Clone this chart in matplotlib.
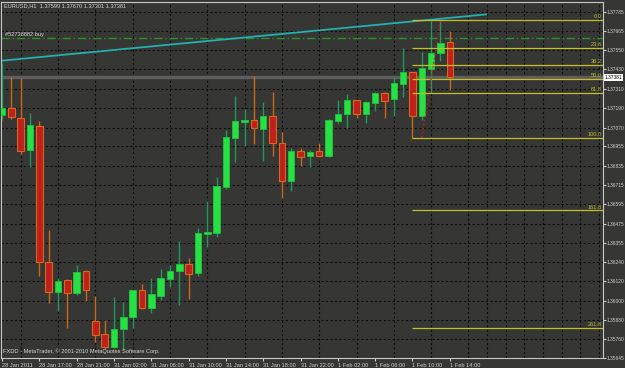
import matplotlib
matplotlib.use('Agg')
import matplotlib.pyplot as plt
from matplotlib import font_manager
import matplotlib.transforms as mtransforms
import numpy as np

# ---------------- data ----------------
time_labels = ["28 Jan 2011", "28 Jan 17:00", "28 Jan 21:00", "31 Jan 02:00", "31 Jan 06:00",
               "31 Jan 10:00", "31 Jan 14:00", "31 Jan 18:00", "31 Jan 22:00", "1 Feb 02:00",
               "1 Feb 06:00", "1 Feb 10:00", "1 Feb 14:00"]

opens = [1.37148, 1.37191, 1.37129, 1.36931, 1.37080, 1.36239, 1.36053, 1.36127, 1.36047, 1.36183,
         1.35874, 1.35795, 1.35713, 1.35824, 1.35899, 1.36066, 1.35954, 1.36028, 1.36134, 1.36183,
         1.36226, 1.36171, 1.36412, 1.36418, 1.36703, 1.37006, 1.37105, 1.37117, 1.37061, 1.37142,
         1.36975, 1.36740, 1.36925, 1.36894, 1.36925, 1.36894, 1.37111, 1.37154, 1.37241, 1.37154,
         1.37222, 1.37284, 1.37247, 1.37340, 1.37414, 1.37142, 1.37432, 1.37531, 1.37599]
highs = [1.37470, 1.37383, 1.37377, 1.37160, 1.37111, 1.36437, 1.36140, 1.36134, 1.36220, 1.36189,
         1.36028, 1.35880, 1.36022, 1.35991, 1.36066, 1.36103, 1.36140, 1.36195, 1.36220, 1.36369,
         1.36263, 1.36449, 1.36616, 1.36764, 1.37055, 1.37265, 1.37185, 1.37389, 1.37228, 1.37290,
         1.37043, 1.36944, 1.36944, 1.36931, 1.36975, 1.37123, 1.37241, 1.37278, 1.37241, 1.37235,
         1.37290, 1.37290, 1.37383, 1.37562, 1.37414, 1.37538, 1.37730, 1.37736, 1.37670]
lows = [1.37117, 1.37123, 1.36907, 1.36826, 1.36152, 1.35985, 1.35936, 1.35831, 1.36035, 1.35998,
        1.35744, 1.35701, 1.35707, 1.35701, 1.35831, 1.35948, 1.35923, 1.36004, 1.36084, 1.35973,
        1.36010, 1.36152, 1.36332, 1.36393, 1.36690, 1.36857, 1.36956, 1.36969, 1.36863, 1.36894,
        1.36635, 1.36678, 1.36832, 1.36826, 1.36888, 1.36888, 1.37098, 1.37068, 1.37129, 1.37098,
        1.37173, 1.37129, 1.37142, 1.37259, 1.37008, 1.37117, 1.37284, 1.37482, 1.37301]
closes = [1.37191, 1.37136, 1.36925, 1.37086, 1.36239, 1.36053, 1.36121, 1.36047, 1.36177, 1.36066,
          1.35790, 1.35713, 1.35824, 1.35899, 1.36066, 1.35954, 1.36041, 1.36140, 1.36183, 1.36226,
          1.36164, 1.36418, 1.36424, 1.36709, 1.37012, 1.37111, 1.37117, 1.37068, 1.37142, 1.36975,
          1.36740, 1.36925, 1.36888, 1.36919, 1.36894, 1.37117, 1.37154, 1.37241, 1.37154, 1.37228,
          1.37284, 1.37235, 1.37346, 1.37414, 1.37142, 1.37439, 1.37531, 1.37593, 1.37381]

price_ticks = [1.37785, 1.37665, 1.37550, 1.37430, 1.37310, 1.37190, 1.37070, 1.36955, 1.36835,
               1.36715, 1.36595, 1.36475, 1.36355, 1.36240, 1.36120, 1.36000, 1.35880, 1.35760, 1.35645]

fib_high = 1.37736
fib_low = 1.37008
fib_levels = [0.0, 23.6, 38.2, 50.0, 61.8, 100.0, 161.8, 261.8]
bid_price = 1.37381
order_price = 1.37622
order_label = "#52738882 buy"
trend_x = [0, 52]
trend_y = [1.37484, 1.37771]
title_text = "EURUSD,H1  1.37599 1.37670 1.37301 1.37381"
copyright_text = "FXDD - MetaTrader, \u00a9 2001-2010 MetaQuotes Software Corp."

# ---------------- style ----------------
names = {f.name for f in font_manager.fontManager.ttflist}
if 'Liberation Sans Narrow' in names:
    FONT, FS, FSY = 'Liberation Sans Narrow', 4.7, 4.3
elif 'Liberation Sans' in names:
    FONT, FS, FSY = 'Liberation Sans', 4.1, 3.5
else:
    FONT, FS, FSY = 'DejaVu Sans', 3.6, 3.1
plt.rcParams['font.family'] = [FONT, 'DejaVu Sans']

BG = '#363634'
TXT = '#d8d8d8'
BULL = '#26e044'
BULL_EDGE = '#20c23c'
BULL_WICK = '#1f9a5c'
BEAR = '#c0201c'
BEAR_EDGE = '#d2691e'
BEAR_WICK = '#c8681a'
FIB = '#c0c02a'

W, H = 625, 368
fig = plt.figure(figsize=(W / 100, H / 100), dpi=100, facecolor=BG)
ax = fig.add_axes([1 / W, 1 - 358 / H, 602 / W, 356 / H])
ax.set_facecolor(BG)

n = len(opens)
xs = np.arange(n)
o = np.array(opens); c = np.array(closes); h = np.array(highs); l = np.array(lows)
up = c >= o

# wicks
ax.vlines(xs[up], l[up], h[up], color=BULL_WICK, lw=1, zorder=3)
ax.vlines(xs[~up], l[~up], h[~up], color=BEAR_WICK, lw=1, zorder=3)
# bodies
bw = 0.7
ax.bar(xs[up], c[up] - o[up], bottom=o[up], width=bw, color=BULL, edgecolor=BULL_EDGE, lw=0.6, zorder=4)
ax.bar(xs[~up], c[~up] - o[~up], bottom=o[~up], width=bw, color=BEAR, edgecolor=BEAR_EDGE, lw=0.8, zorder=4)

xmin, xmax = -0.107, 64.42
ax.set_xlim(xmin, xmax)
ax.set_ylim(1.35645, 1.37847)

# grid
ax.set_yticks(price_ticks)
ax.set_yticklabels([f"{p:.5f}" for p in price_ticks])
ax.set_xticks(np.arange(0, 4 * len(time_labels), 4))
ax.set_xticklabels(time_labels)
ax.set_xticks(np.arange(0, 65, 2), minor=True)
ax.grid(which='major', axis='y', color='#0e0e0e', linestyle=(0, (2, 2)), lw=0.8, zorder=1)
ax.grid(which='minor', axis='x', color='#0e0e0e', linestyle=(0, (2, 2)), lw=0.8, zorder=1)
ax.yaxis.tick_right()
ax.tick_params(axis='y', which='major', length=2, width=0.8, pad=0.8, colors='#cfcfcf', labelsize=FSY)
ax.tick_params(axis='x', which='major', length=2, width=0.8, pad=1.5, colors='#cfcfcf', labelsize=FS)
ax.tick_params(which='minor', length=0)
for lab in ax.get_xticklabels():
    lab.set_ha('left')
for sp in ax.spines.values():
    sp.set_color('#c8c8c8')
    sp.set_linewidth(0.8)

# bid line
ax.axhline(bid_price, color='#5e5e5e', lw=2.4, zorder=2)
# order line
ax.axhline(order_price, color='#2e8f2e', lw=1.0, linestyle=(0, (6, 2, 1, 2)), zorder=2)
ax.text(0.3, order_price + 0.00025, order_label, color=TXT, fontsize=FS, va='center', ha='left', zorder=6)
# trendline
ax.plot(trend_x, trend_y, color='#22b0b0', lw=1.3, zorder=5, solid_capstyle='butt')

# fibonacci
rng = fib_high - fib_low
for lv in fib_levels:
    p = fib_high - lv / 100 * rng
    ax.hlines(p, 44, xmax, color=FIB, lw=0.9, zorder=5)
    ax.text(64.25, p + 0.00004, f"{lv:.1f}", color=FIB, fontsize=FS, ha='right', va='bottom', zorder=6)
ax.plot([45, 47], [fib_low, fib_high], color='#e01818', lw=1.0, linestyle=(0, (1, 2)), zorder=6)

# bid label on price scale
trans = mtransforms.blended_transform_factory(ax.transAxes, ax.transData)
ax.text(1.003, bid_price, f"{bid_price:.5f}", transform=trans, fontsize=FSY, color='black', va='center',
        ha='left', bbox=dict(facecolor='white', edgecolor='none', pad=0.5), zorder=10, clip_on=False)

fig.text(4 / W, 1 - 6 / H, title_text, color=TXT, fontsize=FS, va='center', ha='left')
fig.text(3 / W, 1 - 351 / H, copyright_text, color=TXT, fontsize=FS, va='center', ha='left')

fig.savefig('out.png', dpi=100, facecolor=BG)
